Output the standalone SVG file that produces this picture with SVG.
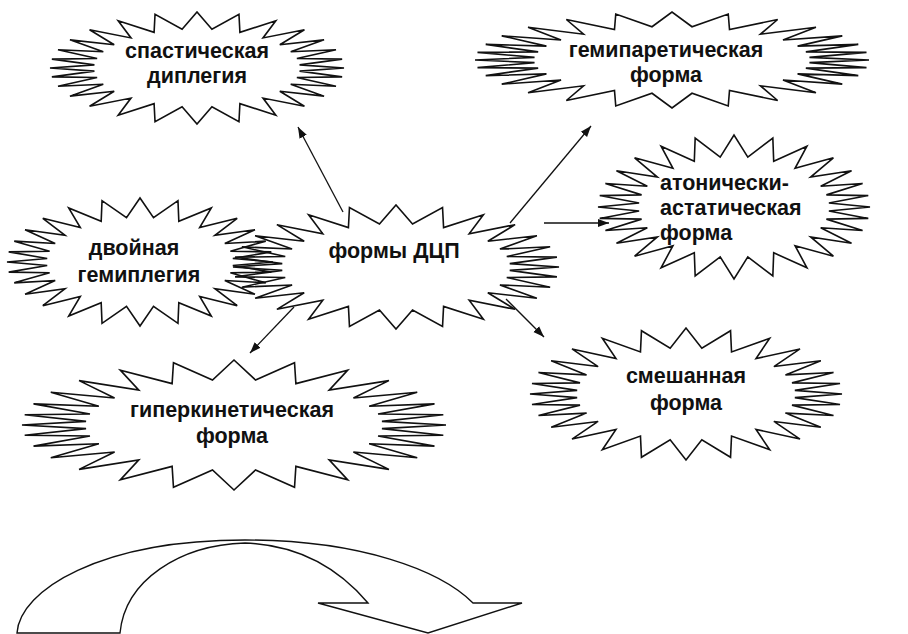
<svg xmlns="http://www.w3.org/2000/svg" xmlns:xlink="http://www.w3.org/1999/xlink" width="908" height="634" viewBox="0 0 908 634">
<style>
.burst{fill:none;stroke:#111;stroke-width:1.6;stroke-linejoin:miter;vector-effect:non-scaling-stroke}
.lbl{font-family:"Liberation Sans",Arial,sans-serif;font-weight:bold;font-size:21.5px;fill:#111}
.c{text-anchor:middle}
.conn{stroke:#111;stroke-width:1.3;fill:none}
</style>
<defs>
<polygon id="star" class="burst" points="100,0 69.78,5.51 98.73,15.86 67.94,16.85 94.56,32.55 63.75,28.92 86.43,50.29 56.33,41.55 73.08,68.26 44.89,53.71 53.63,84.4 29.19,63.63 28.55,95.84 10.15,69.26 0,100 -10.15,69.26 -28.55,95.84 -29.19,63.63 -53.63,84.4 -44.89,53.71 -73.08,68.26 -56.33,41.55 -86.43,50.29 -63.75,28.92 -94.56,32.55 -67.94,16.85 -98.73,15.86 -69.78,5.51 -100,0 -69.78,-5.51 -98.73,-15.86 -67.94,-16.85 -94.56,-32.55 -63.75,-28.92 -86.43,-50.29 -56.33,-41.55 -73.08,-68.26 -44.89,-53.71 -53.63,-84.4 -29.19,-63.63 -28.55,-95.84 -10.15,-69.26 0,-100 10.15,-69.26 28.55,-95.84 29.19,-63.63 53.63,-84.4 44.89,-53.71 73.08,-68.26 56.33,-41.55 86.43,-50.29 63.75,-28.92 94.56,-32.55 67.94,-16.85 98.73,-15.86 69.78,-5.51"/>
<marker id="ah" viewBox="0 0 10 10" refX="10" refY="5" markerWidth="11" markerHeight="11" markerUnits="userSpaceOnUse" orient="auto">
<path d="M0,1.3 L10,5 L0,8.7 Z" fill="#111"/>
</marker>
</defs>
<rect width="908" height="634" fill="#fff"/>

<g id="node-spastic">
<use xlink:href="#star" transform="translate(197,68) scale(1.47,0.56)"/>
<text class="lbl c" x="197" y="58">спастическая</text>
<text class="lbl c" x="197" y="83">диплегия</text>
</g>

<g id="node-hemiparetic">
<use xlink:href="#star" transform="translate(672,60) scale(1.97,0.48)"/>
<text class="lbl c" x="666" y="57">гемипаретическая</text>
<text class="lbl c" x="666" y="82">форма</text>
</g>

<g id="node-atonic">
<use xlink:href="#star" transform="translate(734,207) scale(1.36,0.72)"/>
<text class="lbl" x="660" y="190">атонически-</text>
<text class="lbl" x="660" y="215">астатическая</text>
<text class="lbl" x="660" y="240">форма</text>
</g>

<g id="node-double">
<use xlink:href="#star" transform="translate(140,262) scale(1.33,0.64)"/>
<text class="lbl c" x="134" y="255">двойная</text>
<text class="lbl c" x="139" y="282">гемиплегия</text>
</g>

<g id="node-center">
<use xlink:href="#star" transform="translate(396,267) scale(1.63,0.62)"/>
<text class="lbl c" x="394" y="258">формы ДЦП</text>
</g>

<g id="node-hyperkinetic">
<use xlink:href="#star" transform="translate(234,425) scale(2.12,0.65)"/>
<text class="lbl c" x="232" y="417">гиперкинетическая</text>
<text class="lbl c" x="232" y="443">форма</text>
</g>

<g id="node-mixed">
<use xlink:href="#star" transform="translate(686,394) scale(1.56,0.66)"/>
<text class="lbl c" x="686" y="383">смешанная</text>
<text class="lbl c" x="686" y="410">форма</text>
</g>

<g id="connectors">
<line class="conn" x1="343" y1="212" x2="298" y2="127" marker-end="url(#ah)"/>
<line class="conn" x1="510" y1="223" x2="591" y2="126" marker-end="url(#ah)"/>
<line class="conn" x1="544" y1="223" x2="609" y2="223" marker-end="url(#ah)"/>
<line class="conn" x1="506" y1="299" x2="544" y2="337" marker-end="url(#ah)"/>
<line class="conn" x1="294" y1="307" x2="250" y2="353" marker-end="url(#ah)"/>
</g>

<g id="curved-arrow">
<path d="M17,633 C20,590 100,540 245,540 C360,540 440,570 473,603 L522,603 L428,633 L318,603 L368,603 C340,570 300,545 245,543 C180,545 125,580 120,633 Z" fill="#fff" stroke="#111" stroke-width="1.4" stroke-linejoin="miter"/>
</g>
</svg>
